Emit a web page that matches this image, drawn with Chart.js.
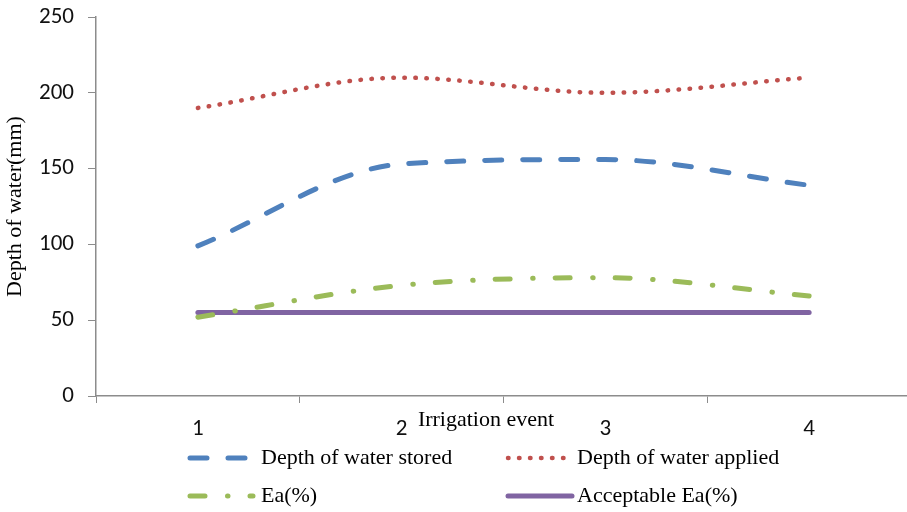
<!DOCTYPE html>
<html>
<head>
<meta charset="utf-8">
<script src="https://cdn.jsdelivr.net/npm/chart.js@4.4.1/dist/chart.umd.min.js"></script>
<style>
  html, body { margin: 0; padding: 0; background: #fff; overflow: hidden; }
  #wrap { width: 920px; height: 512px; }
</style>
</head>
<body>
<div id="wrap"><canvas id="chart" width="920" height="512"></canvas></div>
<script>
// irrigation events and measured depths (mm)
const events = ["1", "2", "3", "4"];
const depthStored = [99, 153, 156, 139];
const depthApplied = [190, 210, 200, 210];
const eaPercent = [52, 73, 78, 66];
const acceptableEa = [55, 55, 55, 55];
const yTicks = [0, 50, 100, 150, 200, 250];

const seriesNames = ["Depth of water stored", "Depth of water applied", "Ea(%)", "Acceptable Ea(%)"];

const serif = "'Liberation Serif', 'Times New Roman', serif";
const sans = "Carlito, Lato, 'Open Sans', sans-serif";
const axisGrey = "#8c8c8c";

// legend entries laid out in two columns, two rows
const legendSlots = [
  { x0: 190, x1: 250, tx: 261, y: 458 },
  { x0: 508, x1: 565, tx: 577, y: 458 },
  { x0: 190, x1: 253, tx: 261, y: 496 },
  { x0: 508, x1: 572, tx: 577, y: 496 }
];

const extras = {
  id: "extras",
  afterDraw(chart) {
    const ctx = chart.ctx;
    ctx.save();
    // x-axis title sits between the tick labels
    ctx.font = "22px " + serif;
    ctx.fillStyle = "#000";
    ctx.textAlign = "center";
    ctx.textBaseline = "middle";
    ctx.fillText("Irrigation event", 486, 420);

    chart.data.datasets.forEach((ds, i) => {
      const s = legendSlots[i];
      ctx.save();
      ctx.strokeStyle = ds.borderColor;
      ctx.lineWidth = ds.borderWidth;
      ctx.lineCap = "round";
      ctx.setLineDash(ds.borderDash || []);
      ctx.beginPath();
      ctx.moveTo(s.x0, s.y);
      ctx.lineTo(s.x1, s.y);
      ctx.stroke();
      ctx.restore();
      ctx.font = "22px " + serif;
      ctx.fillStyle = "#000";
      ctx.textAlign = "left";
      ctx.textBaseline = "middle";
      ctx.fillText(ds.label, s.tx, s.y);
    });
    ctx.restore();
  }
};

new Chart(document.getElementById("chart"), {
  type: "line",
  data: {
    labels: events,
    datasets: [
      {
        label: seriesNames[0],
        data: depthStored,
        borderColor: "#4F81BD",
        borderWidth: 5,
        borderDash: [17, 21],
        borderCapStyle: "round",
        cubicInterpolationMode: "monotone"
      },
      {
        label: seriesNames[1],
        data: depthApplied,
        borderColor: "#C0504D",
        borderWidth: 4.5,
        borderDash: [0.5, 10.5],
        borderCapStyle: "round",
        cubicInterpolationMode: "monotone"
      },
      {
        label: seriesNames[2],
        data: eaPercent,
        borderColor: "#9BBB59",
        borderWidth: 5,
        borderDash: [15, 22.5, 0.5, 22],
        borderCapStyle: "round",
        cubicInterpolationMode: "monotone"
      },
      {
        label: seriesNames[3],
        data: acceptableEa,
        borderColor: "#8064A2",
        borderWidth: 5,
        borderCapStyle: "round",
        tension: 0
      }
    ]
  },
  options: {
    responsive: false,
    animation: false,
    devicePixelRatio: 1,
    layout: { padding: { left: 0, top: 17, right: 9, bottom: 0 } },
    elements: { point: { radius: 0, hoverRadius: 0 } },
    plugins: {
      legend: { display: false },
      tooltip: { enabled: false }
    },
    scales: {
      x: {
        type: "category",
        offset: true,
        afterFit(scale) { scale.height = 116; },
        grid: { offset: true, drawOnChartArea: false, drawTicks: true, tickLength: 7, color: axisGrey },
        border: { color: axisGrey, width: 1.5 },
        ticks: { color: "#111", padding: 12, font: { family: sans, size: 23 } }
      },
      y: {
        min: 0,
        max: 250,
        afterFit(scale) {
          scale.width = 96;
          // let the top label hang into the page margin
          scale.paddingTop = 0;
          scale.paddingBottom = 0;
        },
        afterBuildTicks(scale) { scale.ticks = yTicks.map(v => ({ value: v })); },
        grid: { drawOnChartArea: false, drawTicks: true, tickLength: 8, color: axisGrey },
        border: { color: axisGrey, width: 1.5 },
        ticks: { color: "#111", padding: 14, font: { family: sans, size: 23 } },
        title: {
          display: true,
          text: "Depth of water(mm)",
          color: "#000",
          padding: { top: 2, bottom: 0 },
          font: { family: serif, size: 22 }
        }
      }
    }
  },
  plugins: [extras]
});
</script>
</body>
</html>
